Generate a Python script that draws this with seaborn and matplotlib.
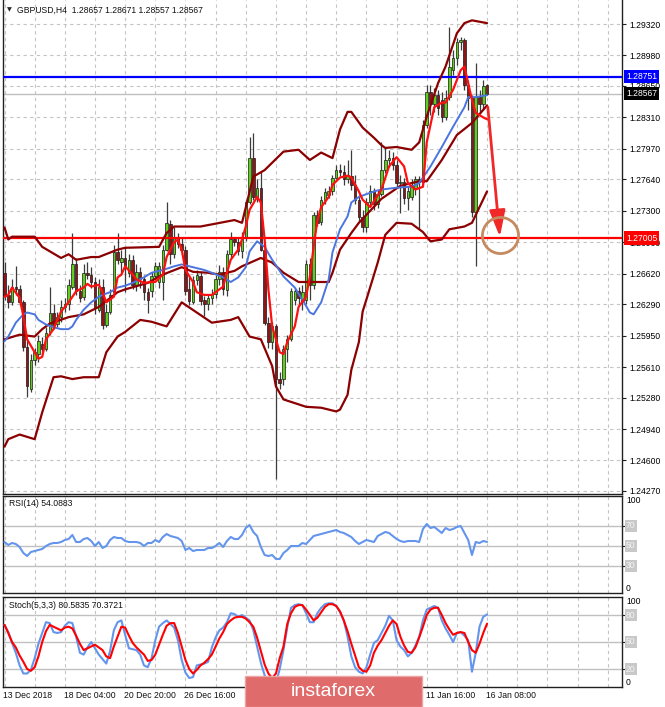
import matplotlib
matplotlib.use("Agg")
import matplotlib.pyplot as plt
import seaborn as sns
import numpy as np
from matplotlib.patches import Rectangle, FancyArrowPatch

# ---------------- data ----------------
open_ = [1.2663,1.2639,1.2631,1.2648,1.2645,1.2631,1.2583,1.2537,1.2569,1.2575,
         1.2586,1.2580,1.2599,1.2620,1.2608,1.2615,1.2626,1.2629,1.2648,1.2672,
         1.2643,1.2637,1.2663,1.2661,1.2653,1.2623,1.2648,1.2607,1.2621,1.2642,
         1.2685,1.2675,1.2679,1.2663,1.2677,1.2650,1.2664,1.2656,1.2642,1.2643,
         1.2659,1.2653,1.2653,1.2688,1.2716,1.2683,1.2701,1.2694,1.2688,1.2645,
         1.2631,1.2655,1.2660,1.2634,1.2629,1.2636,1.2640,1.2656,1.2664,1.2644,
         1.2683,1.2699,1.2696,1.2686,1.2701,1.2739,1.2787,1.2744,1.2755,1.2688,
         1.2609,1.2588,1.2605,1.2548,1.2548,1.2580,1.2591,1.2634,1.2643,1.2631,
         1.2634,1.2672,1.2650,1.2726,1.2718,1.2742,1.2747,1.2751,1.2766,1.2774,
         1.2772,1.2764,1.2768,1.2758,1.2742,1.2723,1.2712,1.2739,1.2751,1.2737,
         1.2748,1.2774,1.2785,1.2787,1.2780,1.2760,1.2761,1.2744,1.2745,1.2755,
         1.2764,1.2761,1.2823,1.2858,1.2845,1.2855,1.2850,1.2831,1.2853,1.2882,
         1.2895,1.2913,1.2915,1.2866,1.2852,1.2729,1.2853,1.2845,1.28657]
high = [1.2675,1.2650,1.2656,1.2670,1.2650,1.2634,1.2591,1.2575,1.2582,1.2596,
        1.2593,1.2604,1.2648,1.2629,1.2621,1.2634,1.2636,1.2656,1.2706,1.2679,
        1.2650,1.2672,1.2675,1.2669,1.2658,1.2656,1.2656,1.2629,1.2645,1.2693,
        1.2706,1.2688,1.2691,1.2683,1.2682,1.2672,1.2669,1.2661,1.2647,1.2664,
        1.2675,1.2675,1.2693,1.2739,1.2720,1.2712,1.2706,1.2701,1.2692,1.2658,
        1.2660,1.2666,1.2664,1.2638,1.2639,1.2645,1.2661,1.2671,1.2669,1.2688,
        1.2707,1.2702,1.2701,1.2707,1.2742,1.2810,1.2814,1.2764,1.2772,1.2693,
        1.2615,1.2610,1.2608,1.2556,1.2585,1.2596,1.2647,1.2647,1.2648,1.2650,
        1.2677,1.2679,1.2729,1.2731,1.2746,1.2755,1.2757,1.2769,1.2780,1.2781,
        1.2780,1.2785,1.2796,1.2769,1.2747,1.2731,1.2744,1.2758,1.2755,1.2753,
        1.2804,1.2799,1.2796,1.2794,1.2785,1.2769,1.2766,1.2757,1.2764,1.2768,
        1.2768,1.2828,1.2866,1.2866,1.2863,1.2861,1.2859,1.2861,1.2929,1.2904,
        1.2917,1.2918,1.2917,1.2872,1.2855,1.2890,1.2861,1.2872,1.28671]
low = [1.2634,1.2625,1.2628,1.2639,1.2628,1.2578,1.2529,1.2534,1.2563,1.2567,
       1.2574,1.2578,1.2596,1.2602,1.2604,1.2610,1.2621,1.2623,1.2645,1.2639,
       1.2631,1.2634,1.2656,1.2647,1.2618,1.2621,1.2602,1.2604,1.2618,1.2638,
       1.2672,1.2661,1.2642,1.2658,1.2645,1.2643,1.2647,1.2634,1.2620,1.2637,
       1.2656,1.2647,1.2634,1.2686,1.2672,1.2679,1.2690,1.2683,1.2639,1.2628,
       1.2629,1.2650,1.2628,1.2616,1.2623,1.2629,1.2636,1.2650,1.2639,1.2638,
       1.2679,1.2692,1.2682,1.2679,1.2697,1.2737,1.2742,1.2740,1.2686,1.2607,
       1.2582,1.2580,1.2440,1.2537,1.2542,1.2567,1.2589,1.2628,1.2629,1.2623,
       1.2629,1.2634,1.2645,1.2714,1.2715,1.2737,1.2744,1.2747,1.2764,1.2768,
       1.2758,1.2760,1.2753,1.2737,1.2718,1.2707,1.2707,1.2736,1.2731,1.2733,
       1.2746,1.2771,1.2777,1.2774,1.2756,1.2728,1.2737,1.2731,1.2742,1.2747,
       1.2710,1.2758,1.2820,1.2834,1.2837,1.2834,1.2826,1.2828,1.2850,1.2877,
       1.2888,1.2904,1.2861,1.2839,1.2723,1.2670,1.2837,1.2839,1.28557]
close = [1.2639,1.2631,1.2648,1.2645,1.2631,1.2583,1.2540,1.2569,1.2577,1.2589,
         1.2580,1.2598,1.2620,1.2606,1.2615,1.2626,1.2629,1.2650,1.2672,1.2643,
         1.2636,1.2663,1.2661,1.2653,1.2625,1.2648,1.2607,1.2621,1.2639,1.2685,
         1.2677,1.2679,1.2669,1.2677,1.2650,1.2664,1.2656,1.2642,1.2633,1.2659,
         1.2670,1.2670,1.2688,1.2717,1.2683,1.2701,1.2694,1.2688,1.2643,1.2632,
         1.2655,1.2661,1.2632,1.2629,1.2636,1.2640,1.2656,1.2664,1.2645,1.2683,
         1.2699,1.2696,1.2686,1.2701,1.2739,1.2787,1.2745,1.2755,1.2688,1.2609,
         1.2588,1.2605,1.2548,1.2544,1.2580,1.2591,1.2643,1.2643,1.2636,1.2642,
         1.2672,1.2650,1.2726,1.2717,1.2742,1.2750,1.2751,1.2766,1.2774,1.2772,
         1.2764,1.2769,1.2758,1.2742,1.2723,1.2713,1.2739,1.2751,1.2737,1.2748,
         1.2774,1.2785,1.2787,1.2780,1.2760,1.2761,1.2744,1.2751,1.2758,1.2764,
         1.2761,1.2823,1.2858,1.2845,1.2855,1.2841,1.2831,1.2852,1.2886,1.2895,
         1.2913,1.2915,1.2866,1.2852,1.2729,1.2853,1.2845,1.2865,1.28567]

bb_upper_idx = [0,1,2,8,10,15,17,19,23,25,30,32,41,43,45,52,61,63,66,69,74,78,81,84,87,89,
                91,92,95,98,100,101,104,108,110,112,115,117,120,122,124,128]
bb_upper_val = [1.2712,1.2699,1.2702,1.2702,1.2691,1.2679,1.2683,1.2677,1.2680,1.2680,1.2688,
                1.2690,1.2691,1.2706,1.2713,1.2713,1.2720,1.2717,1.2767,1.2774,1.2794,1.2796,
                1.2785,1.2793,1.2787,1.2818,1.2837,1.2837,1.2820,1.2809,1.2801,1.2798,1.2799,
                1.2796,1.2804,1.2832,1.2868,1.2886,1.2922,1.2933,1.2936,1.2933]
bb_mid_idx = [0,4,8,10,12,17,21,25,30,32,38,42,47,50,54,57,61,63,68,71,74,78,83,86,87,89,
              92,94,100,105,110,112,116,120,124,128]
bb_mid_val = [1.2591,1.2596,1.2594,1.2602,1.2608,1.2615,1.2618,1.2626,1.2642,1.2645,1.2652,
              1.2661,1.2669,1.2664,1.2663,1.2661,1.2665,1.2670,1.2679,1.2674,1.2663,1.2653,
              1.2653,1.2653,1.2663,1.2688,1.2706,1.2717,1.2743,1.2757,1.2762,1.2762,1.2785,
              1.2812,1.2825,1.2844]
bb_lower_idx = [0,1,4,8,10,13,15,18,21,25,27,30,32,36,39,43,47,51,55,60,62,65,68,71,72,74,
                80,84,88,89,91,92,94,95,96,99,101,104,108,111,113,116,118,122,124,128]
bb_lower_val = [1.2475,1.2483,1.2488,1.2483,1.2512,1.2550,1.2551,1.2548,1.2550,1.2550,1.2577,
                1.2594,1.2599,1.2612,1.2610,1.2605,1.2631,1.2620,1.2609,1.2612,1.2615,1.2594,
                1.2591,1.2562,1.2540,1.2526,1.2518,1.2517,1.2513,1.2515,1.2531,1.2558,1.2588,
                1.2621,1.2634,1.2674,1.2704,1.2717,1.2716,1.2707,1.2697,1.2699,1.2710,1.2713,
                1.2717,1.2751]
ma_blue_idx = [0,1,3,5,6,8,9,11,13,15,17,18,19,21,23,25,26,28,30,32,34,37,39,42,45,47,50,53,
               55,58,60,62,64,65,67,69,71,74,77,79,81,82,84,86,87,89,91,92,94,98,100,104,108,
               110,113,116,119,122,123,125,128]
ma_blue_val = [1.2589,1.2594,1.2609,1.2618,1.2620,1.2618,1.2612,1.2607,1.2604,1.2602,1.2602,
               1.2605,1.2612,1.2623,1.2631,1.2637,1.2639,1.2642,1.2647,1.2649,1.2652,1.2658,
               1.2663,1.2666,1.2670,1.2672,1.2669,1.2666,1.2663,1.2658,1.2653,1.2658,1.2669,
               1.2686,1.2697,1.2691,1.2677,1.2659,1.2647,1.2634,1.2620,1.2618,1.2631,1.2656,
               1.2685,1.2710,1.2724,1.2739,1.2745,1.2751,1.2753,1.2755,1.2756,1.2760,1.2778,
               1.2799,1.2821,1.2842,1.2853,1.2853,1.2855]
ma_red_idx = [0,1,2,4,5,6,8,9,10,11,13,14,15,17,18,19,21,22,23,25,26,27,29,30,31,32,34,35,37,
              39,40,42,43,45,46,47,48,50,51,53,55,56,58,59,60,62,63,64,65,67,68,69,70,71,73,
              74,75,77,78,80,81,82,83,84,86,87,89,91,92,94,95,97,100,102,104,106,107,109,111,
              112,114,116,117,119,121,122,123,124,125,127,128]
ma_red_val = [1.2637,1.2639,1.2647,1.2636,1.2616,1.2591,1.2577,1.2570,1.2572,1.2591,1.2602,
              1.2612,1.2621,1.2631,1.2637,1.2643,1.2647,1.2651,1.2648,1.2650,1.2642,1.2631,
              1.2637,1.2658,1.2661,1.2670,1.2661,1.2656,1.2652,1.2653,1.2653,1.2661,1.2680,
              1.2696,1.2699,1.2688,1.2666,1.2653,1.2642,1.2639,1.2639,1.2642,1.2648,1.2663,
              1.2677,1.2688,1.2699,1.2713,1.2731,1.2745,1.2739,1.2699,1.2645,1.2605,1.2577,
              1.2575,1.2588,1.2605,1.2626,1.2637,1.2659,1.2691,1.2720,1.2734,1.2745,1.2758,
              1.2766,1.2768,1.2766,1.2751,1.2742,1.2734,1.2753,1.2778,1.2788,1.2778,1.2760,
              1.2753,1.2756,1.2804,1.2842,1.2847,1.2847,1.2861,1.2882,1.2886,1.2868,1.2850,
              1.2836,1.2831,1.2829]

rsi = [54,51,53,52,49,43,40,44,45,46,47,50,52,53,53,54,56,57,61,54,
       54,57,58,55,50,54,48,50,56,59,58,58,55,54,54,54,53,50,53,53,
       56,54,59,62,60,59,58,55,46,48,45,46,46,46,48,48,50,53,49,55,
       59,57,57,61,68,71,64,60,49,41,40,41,37,37,43,46,50,50,50,53,
       52,56,60,61,62,63,64,65,66,64,63,61,59,55,52,54,56,55,54,60,
       62,64,63,60,57,55,54,55,55,55,54,67,72,68,69,66,63,68,66,67,
       69,70,63,56,41,54,53,55,54.0883]
stoch_k = [69,61,49,38,24,15,15,19,32,48,60,72,71,61,60,61,68,72,71,56,
           38,36,44,50,43,36,31,26,40,63,72,74,58,43,42,41,36,24,22,32,
           52,67,71,74,70,66,52,30,16,10,11,24,25,26,28,44,55,63,66,72,
           82,81,78,80,77,74,63,45,27,13,6,3,4,20,41,66,88,91,92,91,
           82,72,72,82,88,92,93,93,90,83,74,56,34,22,17,15,22,36,49,52,
           60,68,79,74,52,45,41,34,38,46,56,74,86,88,90,88,74,65,58,50,
           60,61,57,52,17,38,67,78,80.5835]
stoch_d = [69,60,50,44,35,28,20,18,22,34,50,62,69,67,65,63,66,67,65,57,
           48,41,43,45,47,44,41,34,32,45,56,67,66,57,49,44,40,36,29,30,
           36,47,58,68,71,71,60,45,30,20,15,19,24,27,31,36,45,54,61,70,
           74,77,78,78,76,72,67,55,40,25,15,10,15,32,45,70,82,89,91,91,
           86,80,74,77,83,89,92,92,90,84,74,62,48,35,22,18,17,24,38,46,
           52,60,68,74,70,56,46,39,38,44,55,67,80,86,88,88,80,71,64,58,
           60,61,60,50,41,38,48,60,70.3721]

price_ticks = [1.29320,1.28980,1.28650,1.28310,1.27970,1.27640,1.27300,1.26960,
               1.26620,1.26290,1.25950,1.25610,1.25280,1.24940,1.24600,1.24270]
date_label_idx = [0, 16, 32, 48, 112, 128]
date_labels = ["13 Dec 2018", "18 Dec 04:00", "20 Dec 20:00", "26 Dec 16:00",
               "11 Jan 16:00", "16 Jan 08:00"]
level_blue = 1.28751
level_red = 1.27005
bid_price = 1.28567
target_idx, target_price = 131.4, 1.27038
arrow_from = (128.2, 1.28422)
arrow_to = (131.4, 1.27017)

# ---------------- figure ----------------
sns.set_theme(style="white")
plt.rcParams['font.family'] = ['Liberation Sans', 'DejaVu Sans']

W, H = 665, 707
fig = plt.figure(figsize=(W / 100, H / 100), dpi=100)
fig.patch.set_facecolor('white')


def add_ax(x0, y0, x1, y1):
    return fig.add_axes([x0 / W, 1 - y1 / H, (x1 - x0) / W, (y1 - y0) / H])


ax = add_ax(3, 0, 622, 494)
ar = add_ax(3, 496, 622, 593)
ast = add_ax(3, 597, 622, 687)

XMIN, XMAX = -0.4, 163.8
gridc = '#c4c4c4'
dash = (0, (3, 3))
FS = 6.2

for a in (ax, ar, ast):
    a.set_xlim(XMIN, XMAX)
    a.set_facecolor('white')
    for gx in range(0, 161, 8):
        a.axvline(gx, color=gridc, lw=0.8, ls=dash, zorder=0)
    for s in a.spines.values():
        s.set_color('#202020')
        s.set_linewidth(1.0)
    a.set_xticks([])
    a.yaxis.tick_right()
    a.tick_params(axis='y', which='both', length=3, width=0.8, pad=2,
                  labelsize=FS, direction='out', colors='#202020', labelcolor='black')
ax.spines['top'].set_visible(False)

# ---- main price panel ----
ax.set_ylim(1.24237, 1.29580)
ax.set_yticks(price_ticks)
ax.set_yticklabels([f"{t:.5f}" for t in price_ticks])
for t in price_ticks:
    ax.axhline(t, color=gridc, lw=0.8, ls=dash, zorder=0)

ax.axhline(bid_price, color='#c0c0c0', lw=1.0, zorder=1)
ax.axhline(level_blue, color='#0000ff', lw=1.6, zorder=4.5)
ax.axhline(level_red, color='#ff0000', lw=1.6, zorder=4.5)

o = np.array(open_); c = np.array(close); h = np.array(high); l = np.array(low)
idx = np.arange(len(c))
up = c >= o
ax.vlines(idx, l, h, color='#3c3c3c', lw=0.9, zorder=3)
bb = np.minimum(o, c)
bh = np.maximum(np.abs(c - o), 0.00005)
ax.bar(idx[up], bh[up], bottom=bb[up], width=0.66, color='#5fcf1a',
       edgecolor='#1a1a1a', linewidth=0.5, zorder=4)
ax.bar(idx[~up], bh[~up], bottom=bb[~up], width=0.66, color='#8e1616',
       edgecolor='#1a1a1a', linewidth=0.5, zorder=4)

bcol = '#8b0000'
sns.lineplot(x=bb_upper_idx, y=bb_upper_val, ax=ax, color=bcol, lw=1.6, zorder=5)
sns.lineplot(x=bb_mid_idx, y=bb_mid_val, ax=ax, color=bcol, lw=1.6, zorder=5)
sns.lineplot(x=bb_lower_idx, y=bb_lower_val, ax=ax, color=bcol, lw=1.6, zorder=5)
sns.lineplot(x=ma_blue_idx, y=ma_blue_val, ax=ax, color='#4a74e0', lw=1.4, zorder=5)
sns.lineplot(x=ma_red_idx, y=ma_red_val, ax=ax, color='#ff1010', lw=1.6, zorder=6)
ax.set_xlabel(''); ax.set_ylabel('')

arr = FancyArrowPatch(arrow_from, arrow_to, arrowstyle='-|>,head_length=1.0,head_width=0.3',
                      mutation_scale=16, color='#f02828', lw=2.0, zorder=7,
                      shrinkA=0, shrinkB=0)
ax.add_patch(arr)
ax.plot([target_idx], [target_price], marker='o', ms=26, mfc='none',
        mec='#c58a60', mew=2.0, zorder=7, clip_on=False)


def price_label(a, y, text, fc):
    a.text(1.0 + 4 / 619, y, text, transform=a.get_yaxis_transform(), ha='left',
           va='center', fontsize=FS, color='white', zorder=20, clip_on=False,
           bbox=dict(boxstyle='square,pad=0.25', fc=fc, ec='none'))


price_label(ax, level_blue, f"{level_blue:.5f}", '#0000ff')
price_label(ax, bid_price, f"{bid_price:.5f}", '#000000')
price_label(ax, level_red, f"{level_red:.5f}", '#ff0000')

fig.text(9.5 / W, 1 - 10 / H, '\u25BC', fontsize=4.5, ha='center', va='center',
         family=['DejaVu Sans'])
fig.text(17 / W, 1 - 10 / H,
         f"GBPUSD,H4  {open_[-1]:.5f} {high[-1]:.5f} {low[-1]:.5f} {close[-1]:.5f}",
         fontsize=FS, ha='left', va='center', color='#101010')

# ---- RSI panel ----
ar.set_ylim(3, 100)
ar.set_yticks([70, 50, 30])
ar.set_yticklabels([])
for lv in (70, 50, 30):
    ar.axhline(lv, color='#c0c0c0', lw=1.0, zorder=1)
sns.lineplot(x=idx, y=rsi, ax=ar, color='#6495ed', lw=1.5, zorder=5)
ar.set_xlabel(''); ar.set_ylabel('')
ar.text(6 / 619, 1 - 8 / 97, f"RSI(14) {rsi[-1]:.4f}", transform=ar.transAxes,
        fontsize=FS, ha='left', va='center', color='#101010')


def lvl_label(a, y, text, boxed, va='center'):
    kw = dict(transform=a.get_yaxis_transform(), ha='left', va=va, fontsize=FS,
              zorder=20, clip_on=False)
    if boxed:
        a.text(1.0 + 4 / 619, y, text, color='#f4f4f4',
               bbox=dict(boxstyle='square,pad=0.15', fc='#c8c8c8', ec='none'), **kw)
    else:
        a.text(1.0 + 4 / 619, y, text, color='black', **kw)


lvl_label(ar, 100, '100', False, va='top')
lvl_label(ar, 70, '70', True)
lvl_label(ar, 50, '50', True)
lvl_label(ar, 30, '30', True)
lvl_label(ar, 3, '0', False, va='bottom')

# ---- Stochastic panel ----
ast.set_ylim(0, 100)
ast.set_yticks([80, 50, 20])
ast.set_yticklabels([])
for lv in (80, 50, 20):
    ast.axhline(lv, color='#c0c0c0', lw=1.0, zorder=1)
sns.lineplot(x=idx, y=stoch_k, ax=ast, color='#6495ed', lw=1.5, zorder=5)
sns.lineplot(x=idx, y=stoch_d, ax=ast, color='#ff0000', lw=1.5, zorder=6)
ast.set_xlabel(''); ast.set_ylabel('')
ast.text(6 / 619, 1 - 9 / 90, f"Stoch(5,3,3) {stoch_k[-1]:.4f} {stoch_d[-1]:.4f}",
         transform=ast.transAxes, fontsize=FS, ha='left', va='center', color='#101010')
lvl_label(ast, 100, '100', False, va='top')
lvl_label(ast, 80, '80', True)
lvl_label(ast, 50, '50', True)
lvl_label(ast, 20, '20', True)
lvl_label(ast, 0, '0', False, va='bottom')

ast.set_xticks(date_label_idx)
ast.set_xticklabels([])
ast.tick_params(axis='x', length=3, width=0.8, direction='out', colors='#202020')
for i, lab in zip(date_label_idx, date_labels):
    ast.text(i - 0.3, -0.05, lab, transform=ast.get_xaxis_transform(), ha='left',
             va='top', fontsize=FS, color='#101010', clip_on=False)

# ---- watermark logo ----
fig.add_artist(Rectangle((245 / W, 0), (422 - 245) / W, (707 - 676) / H,
                         transform=fig.transFigure, fc='#df6b6b', ec='#eba3a3',
                         lw=1.0, zorder=30))
fig.text(333 / W, 1 - 691 / H, 'instaforex', fontsize=14, color='white',
         ha='center', va='center', zorder=31)

fig.savefig('out.png', dpi=100)
